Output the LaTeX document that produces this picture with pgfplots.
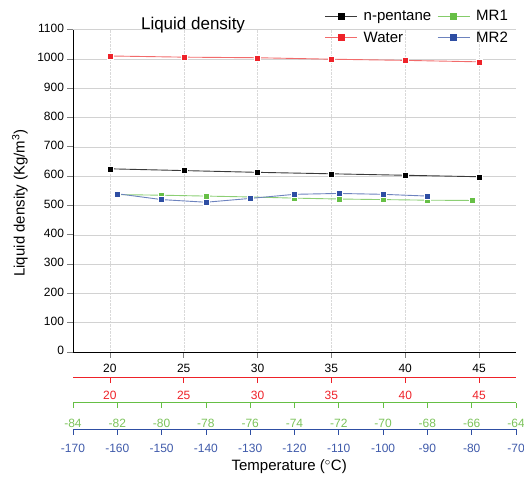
\documentclass[border=0pt]{standalone}
\usepackage{pgfplots}
\pgfplotsset{compat=1.18}
\usepackage{fontspec}
\setmainfont{Liberation Sans}
\definecolor{penta}{HTML}{000000}
\definecolor{pentaline}{HTML}{3A3A3A}
\definecolor{wred}{HTML}{EE2229}
\definecolor{wredline}{HTML}{F26B6B}
\definecolor{mgreen}{HTML}{66BF45}
\definecolor{mgreentxt}{HTML}{7CC35B}
\definecolor{mblue}{HTML}{2E4EA3}
\definecolor{mbluetxt}{HTML}{3F5AAA}

\pgfplotsset{
  base/.style={
    scale only axis, width=443pt, height=322.4pt,
    ymin=0, ymax=1100,
    tick align=outside, major tick length=5.5pt,
    axis line style={-, line width=0.7pt},
    tick style={line width=0.7pt},
    ticklabel style={font=\fontsize{12}{14}\selectfont},
    typeset ticklabels with strut,
    /pgf/number format/assume math mode=true,
    /pgf/number format/set thousands separator={},
    legend image code/.code={\draw[mark repeat=2,mark phase=2,#1] plot coordinates {(0pt,0pt) (16pt,0pt) (32pt,0pt)};},
  },
  subx/.style={
    base, axis y line=none, axis x line*=bottom,
  },
}

\begin{document}
\begin{tikzpicture}
\useasboundingbox (-73pt,-128pt) rectangle (451pt,352pt);

% main axis: n-pentane and water
\begin{axis}[
  base, name=main,
  xmin=17.5, xmax=47.5,
  axis x line*=bottom, axis y line*=left,
  xtick={20,25,...,45}, ytick={0,100,...,1100},
  xticklabel style={yshift=-1.5pt},
  ymajorgrids, xmajorgrids,
  y grid style={gray!35, line width=0.5pt},
  x grid style={gray!30, densely dotted, line width=0.5pt},
  title={Liquid density},
  title style={at={(axis description cs:0.271,1.014)}, anchor=center, yshift=-6pt, font=\fontsize{17}{20}\selectfont},
  ylabel={Liquid density (Kg/m\textsuperscript{3})},
  ylabel style={at={(axis description cs:-0.12,0.462)}, anchor=center, font=\fontsize{15}{18}\selectfont},
  xlabel={Temperature ($^\circ$C)},
  xlabel style={at={(axis description cs:0.488,-0.357)}, anchor=center, font=\fontsize{15}{18}\selectfont},
  legend columns=2,
  legend style={at={(axis description cs:0.568,1.066)}, anchor=north west, draw=none, fill=none,
    font=\fontsize{15}{18}\selectfont, column sep=4pt, row sep=5.5pt, inner sep=0pt},
  legend cell align=left,
]
\addplot[pentaline, line width=0.9pt, mark=square*, mark size=3pt, mark options={penta, draw=white, line width=0.3pt}, forget plot]
  coordinates {(20,625) (25,619) (30,613) (35,608) (40,603) (45,598)};
\addplot[wredline, line width=0.9pt, mark=square*, mark size=3pt, mark options={wred, draw=white, line width=0.3pt}, forget plot]
  coordinates {(20,1010) (25,1006) (30,1004) (35,999) (40,995) (45,990)};
\addlegendimage{pentaline, line width=0.9pt, mark=square*, mark size=3pt, mark options={penta}}
\addlegendentry{n-pentane}
\addlegendimage{mgreen!80, line width=0.9pt, mark=square*, mark size=3pt, mark options={mgreen}}
\addlegendentry{MR1}
\addlegendimage{wredline, line width=0.9pt, mark=square*, mark size=3pt, mark options={wred}}
\addlegendentry{Water}
\addlegendimage{mblue!70, line width=0.9pt, mark=square*, mark size=3pt, mark options={mblue}}
\addlegendentry{MR2}
\end{axis}

% water temperature axis (no data of its own, so the whole axis is moved down)
\begin{axis}[
  subx, yshift=-25.7pt,
  xmin=17.5, xmax=47.5, xtick={20,25,...,45},
  axis line style={draw=none},
  xtick style={wred},
  xticklabel style={wred, yshift=-2.5pt},
]
\addplot[draw=none, forget plot] coordinates {(20,0) (45,0)};
\draw[wred, line width=0.7pt] (rel axis cs:0,0) -- (rel axis cs:1,0);
\end{axis}

% MR1 axis
\begin{axis}[
  subx, xmin=-84, xmax=-64, xtick={-84,-82,...,-64},
  axis x line shift=50.7pt,
  x axis line style={draw=mgreen},
  every outer x axis line/.append style={draw=mgreen},
  xtick style={mgreen},
  xticklabel style={mgreentxt, yshift=-5.5pt},
]
\addplot[mgreen!75, line width=0.9pt, mark=square*, mark size=3pt, mark options={mgreen, draw=white, line width=0.3pt}]
  coordinates {(-82,537) (-80,535) (-78,532) (-76,529) (-74,525) (-72,522) (-70,520) (-68,518) (-66,517)};
\end{axis}

% MR2 axis
\begin{axis}[
  subx, xmin=-170, xmax=-70, xtick={-170,-160,...,-70},
  axis x line shift=77pt,
  x axis line style={draw=mblue},
  every outer x axis line/.append style={draw=mblue},
  xtick style={mblue},
  xticklabel style={mbluetxt, yshift=-5pt},
]
\addplot[mblue!70, line width=0.9pt, mark=square*, mark size=3pt, mark options={mblue, draw=white, line width=0.3pt}]
  coordinates {(-160,540) (-150,520) (-140,511) (-130,524) (-120,538) (-110,541) (-100,538) (-90,532)};
\end{axis}
\end{tikzpicture}
\end{document}
